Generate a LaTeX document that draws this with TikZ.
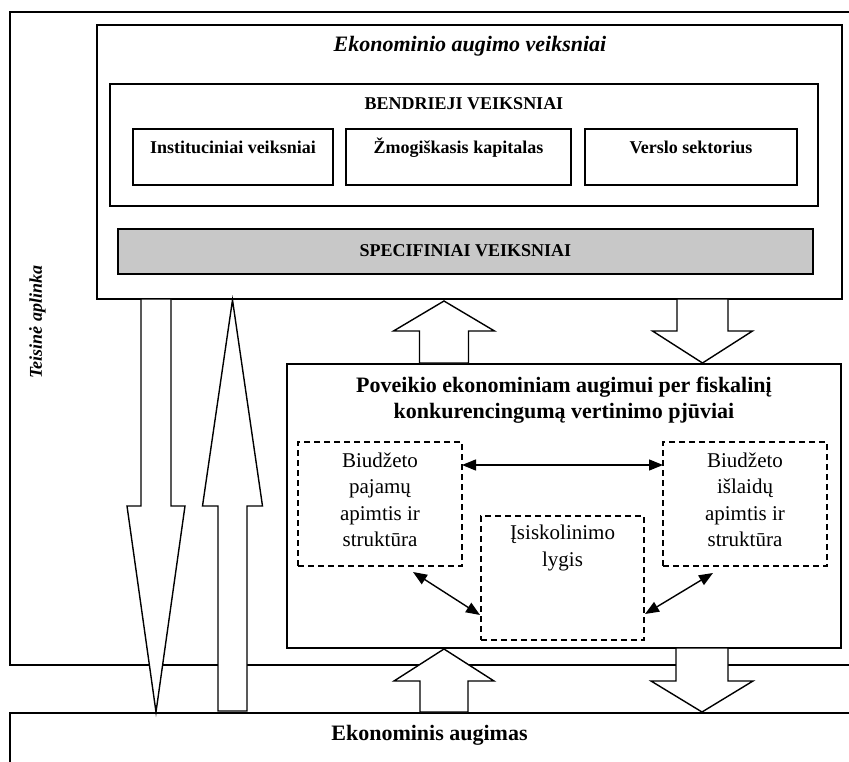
\documentclass[tikz,border=0pt]{standalone}
\usepackage{fontspec}
\setmainfont{Liberation Serif}
\usetikzlibrary{arrows.meta}
\definecolor{specgray}{RGB}{200,200,200}

% hollow block arrow: centre x, tip y, shoulder y, tail y, half shaft, half head
\newcommand\fatarrow[6]{%
  \draw[fat] (#1,#2) -- ({#1+#6},#3) -- ({#1+#5},#3) -- ({#1+#5},#4)
    -- ({#1-#5},#4) -- ({#1-#5},#3) -- ({#1-#6},#3) -- cycle;}

\begin{document}
\begin{tikzpicture}[x=1pt,y=-1pt,
  frame/.style={draw, line width=1.5pt},
  box/.style={draw, line width=1.5pt, fill=white, inner sep=0pt, outer sep=0pt},
  dashbox/.style={draw, line width=1.4pt, dash pattern=on 6pt off 4pt, inner sep=0pt, outer sep=0pt},
  fat/.style={draw, line width=1.4pt, fill=white, line join=miter},
  link/.style={line width=1.4pt, {Triangle[length=14pt,width=11pt]}-{Triangle[length=14pt,width=11pt]}},
  ttl/.style={font=\fontsize{22}{26}\selectfont\bfseries, inner sep=0pt},
  ttli/.style={font=\fontsize{22}{26}\selectfont\bfseries\itshape, inner sep=0pt},
  lbl/.style={font=\fontsize{18}{22}\selectfont\bfseries, inner sep=0pt},
  lbli/.style={font=\fontsize{18}{22}\selectfont\bfseries\itshape, inner sep=0pt},
  body/.style={font=\fontsize{21}{26.5}\selectfont, align=center, inner sep=0pt},
]
\useasboundingbox (0,0) rectangle (849,762);
\fill[white] (0,0) rectangle (849,762);

% legal environment frame and economic growth strip
\draw[frame] (851,12) -- (10,12) -- (10,665) -- (851,665);
\draw[frame] (851,713) -- (10,713) -- (10,765);
\node[lbli, rotate=90] (legal) at (37.5,322) {Teisinė aplinka};
\node[ttl, anchor=base] (growth) at (429.5,740) {Ekonominis augimas};

% growth factors
\node[box, minimum width=745pt, minimum height=274pt] (econ) at (469.5,162) {};
\node[ttli, anchor=base] (econttl) at (470,52) {Ekonominio augimo veiksniai};
\node[box, minimum width=708pt, minimum height=122pt] (gen) at (464,145) {};
\node[lbl, anchor=base] (genttl) at (464,110) {BENDRIEJI VEIKSNIAI};
\node[box, minimum width=200pt, minimum height=56pt] (inst) at (233,157) {};
\node[box, minimum width=225pt, minimum height=56pt] (human) at (458.5,157) {};
\node[box, minimum width=212pt, minimum height=56pt] (biz) at (691,157) {};
\node[lbl, anchor=base] (instl) at (233,154) {Instituciniai veiksniai};
\node[lbl, anchor=base] (humanl) at (458.5,154) {Žmogiškasis kapitalas};
\node[lbl, anchor=base] (bizl) at (691,154) {Verslo sektorius};
\node[box, fill=specgray, minimum width=695pt, minimum height=45pt] (spec) at (465.5,251.5) {};
\node[lbl, anchor=base] (specl) at (465.5,257) {SPECIFINIAI VEIKSNIAI};

% fiscal competitiveness assessment
\node[box, minimum width=554pt, minimum height=284pt] (pov) at (564,506) {};
\node[ttl, align=center] (povttl) at (564,400)
  {Poveikio ekonominiam augimui per fiskalinį\\konkurencingumą vertinimo pjūviai};
\node[dashbox, minimum width=164pt, minimum height=124pt] (lbox) at (380,504) {};
\node[dashbox, minimum width=163pt, minimum height=124pt] (mbox) at (562.5,578) {};
\node[dashbox, minimum width=164pt, minimum height=124pt] (rbox) at (745,504) {};
\node[body] (ltxt) at (380,500) {Biudžeto\\pajamų\\apimtis ir\\struktūra};
\node[body] (mtxt) at (562.5,548) {Įsiskolinimo\\lygis};
\node[body] (rtxt) at (745,500) {Biudžeto\\išlaidų\\apimtis ir\\struktūra};

\draw[link] ([yshift=39pt]lbox.east) -- ([yshift=39pt]rbox.west);
\draw[link] ([xshift=-49pt,yshift=-6pt]lbox.south east) -- ([xshift=-1pt,yshift=-37pt]mbox.west);
\draw[link] ([xshift=50pt,yshift=-7pt]rbox.south west) -- ([xshift=1pt,yshift=-36pt]mbox.east);

% block arrows
\fatarrow{156}{712}{506}{299}{15}{29}
\fatarrow{232.5}{300}{506}{711}{14.5}{30}
\fatarrow{444}{301}{331}{363}{24.5}{50.5}
\fatarrow{702.5}{363}{331}{299}{25.5}{50}
\fatarrow{444}{649}{681}{712}{24}{50}
\fatarrow{702}{712}{681}{648}{26}{51}
\end{tikzpicture}
\end{document}
